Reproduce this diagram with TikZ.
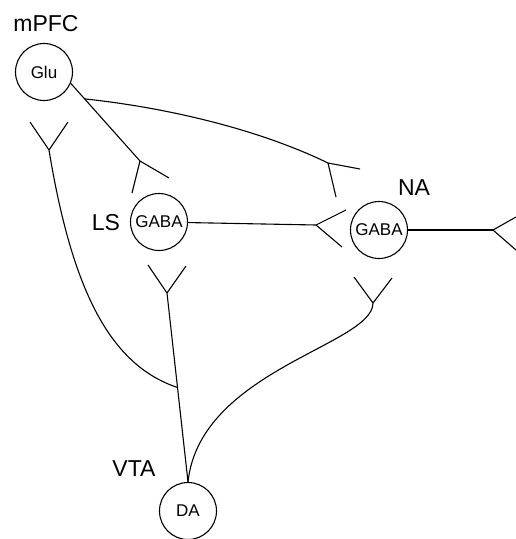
\documentclass[tikz,border=0pt]{standalone}
\usepackage{fontspec}
\setmainfont{Liberation Sans}
\usetikzlibrary{calc}

\begin{document}
\begin{tikzpicture}[
            x=1pt,y=-1pt,
            cell/.style={draw,circle,line width=1.1pt,minimum size=57pt,inner sep=0pt,font=\fontsize{17}{17}\selectfont},
            region/.style={inner sep=0pt,font=\fontsize{23}{23}\selectfont},
            fibre/.style={line width=1.1pt}
        ]
            \useasboundingbox (0,0) rectangle (516,539);
            % cell bodies and region labels
            \node[cell] (glu) at (44,72) {Glu};
            \node[cell] (lsgaba) at (159,222) {GABA};
            \node[cell] (nagaba) at (379,230) {GABA};
            \node[cell] (da) at (188,511) {DA};
            \node[region] (mpfc) at (46,24) {mPFC};
            \node[region] (ls) at (106,223) {LS};
            \node[region] (na) at (414,188) {NA};
            \node[region] (vta) at (134,469) {VTA};
            % forks of the terminals
            \coordinate (gluls) at (140,161);
            \coordinate (gluna) at (328,163);
            \coordinate (lsna) at (316,225);
            \coordinate (naout) at (493,230);
            \coordinate (lsvta) at (167,293);
            \coordinate (pfcvta) at (49,150);
            \coordinate (navta) at (373,303);
            \coordinate (split) at ($(glu.-23)!0.2!(gluls)$);
            \coordinate (merge) at ($(lsvta)!0.5!(da.north)$);
            % mPFC projections
            \draw[fibre] (glu.-23) -- (gluls);
            \draw[fibre] (gluls) -- ++(-8,32) (gluls) -- ++(29,17);
            \draw[fibre] (split) .. controls (170,108) and (260,130) .. (gluna);
            \draw[fibre] (gluna) -- ++(32,6) (gluna) -- ++(8,34);
            % LS and NA projections
            \draw[fibre] (lsgaba) -- (lsna);
            \draw[fibre] (lsna) -- ++(30,-15) (lsna) -- ++(26,22);
            \draw[fibre] (nagaba) -- (naout);
            \draw[fibre] (naout) -- ++(23,-13) (naout) -- ++(23,20);
            % inputs to VTA
            \draw[fibre] (lsvta) -- ++(-19,-28) (lsvta) -- ++(19,-27);
            \draw[fibre] (lsvta) -- (da.north);
            \draw[fibre] (pfcvta) -- ++(-19,-28) (pfcvta) -- ++(19,-28);
            \draw[fibre] (pfcvta) .. controls (72,290) and (110,365) .. (merge);
            \draw[fibre] (navta) -- ++(-19,-26) (navta) -- ++(19,-25);
            \draw[fibre] (navta) .. controls (373,345) and (200,370) .. (da.north);
        \end{tikzpicture}
\end{document}
